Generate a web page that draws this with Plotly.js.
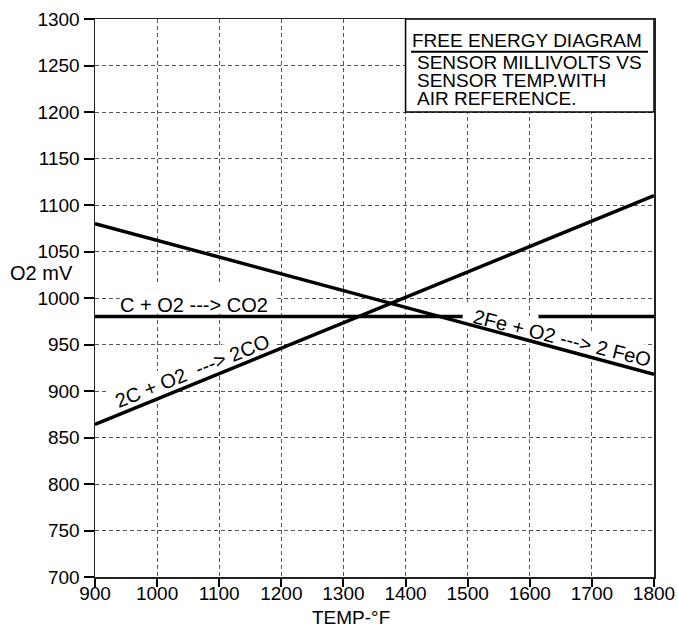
<!DOCTYPE html>
<html>
<head>
<meta charset="utf-8">
<script src="https://cdn.plot.ly/plotly-3.0.1.min.js"></script>
<style>html,body{margin:0;padding:0;background:#fff;}#chart{width:678px;height:628px;}</style>
</head>
<body>
<div id="chart"></div>
<script>
// ---- data ----
const tempF = [900, 1800];                 // x extent of sloped lines (°F)
const mvCarbonMonoxide = [864, 1110];      // 2C + O2 ---> 2CO
const mvIronOxide = [1080, 918];           // 2Fe + O2 ---> 2 FeO
const co2Temp = [900, 1492, null, 1614, 1800]; // C + O2 ---> CO2 (broken under label)
const co2Mv = [980, 980, null, 980, 980];
const xTickVals = [900, 1000, 1100, 1200, 1300, 1400, 1500, 1600, 1700, 1800];
const yTickVals = [700, 750, 800, 850, 900, 950, 1000, 1050, 1100, 1150, 1200, 1250, 1300];
const boxLines = ['SENSOR MILLIVOLTS VS', 'SENSOR TEMP.WITH', 'AIR REFERENCE.'];

// ---- layout geometry ----
const W = 678, H = 628, L = 95, R = 654, T = 19, B = 577;
const X0 = 900, X1 = 1800, Y0 = 700, Y1 = 1300;
const px2x = p => X0 + (p - L) / (R - L) * (X1 - X0);
const py2y = p => Y1 - (p - T) / (B - T) * (Y1 - Y0);

function rotRect(cx, cy, ang, hw, hh) {
  const a = ang * Math.PI / 180, c = Math.cos(a), s = Math.sin(a);
  const pts = [[-hw, -hh], [hw, -hh], [hw, hh], [-hw, hh]].map(([u, v]) =>
    [px2x(cx + u * c - v * s), py2y(cy + u * s + v * c)]);
  return 'M' + pts.map(p => p[0].toFixed(2) + ',' + p[1].toFixed(2)).join(' L') + ' Z';
}

const FONT = '"Liberation Sans", Arial, sans-serif';
const lineStyle = {color: '#000', width: 3.5};

const traces = [
  {x: tempF, y: mvCarbonMonoxide, mode: 'lines', line: lineStyle, hoverinfo: 'skip'},
  {x: tempF, y: mvIronOxide, mode: 'lines', line: lineStyle, hoverinfo: 'skip'},
  {x: co2Temp, y: co2Mv, mode: 'lines', line: lineStyle, connectgaps: false, hoverinfo: 'skip'}
];

const axisCommon = {
  showline: true, linecolor: '#222', linewidth: 1.5, mirror: true,
  ticks: 'outside', tickcolor: '#000', tickwidth: 2,
  showgrid: true, gridcolor: '#555', gridwidth: 1, griddash: '4px,3px',
  zeroline: false, tickfont: {family: FONT, size: 19, color: '#000'}
};

const annotations = [
  {text: 'C + O2 ---> CO2', x: 1059, y: 993, xref: 'x', yref: 'y', showarrow: false,
   font: {family: FONT, size: 20, color: '#000'}},
  {text: '2C + O2\u00a0\u00a0---> 2CO', x: px2x(192.4), y: py2y(370.8), xref: 'x', yref: 'y', showarrow: false,
   textangle: -22, font: {family: FONT, size: 20, color: '#000'}},
  {text: '2Fe + O2 ---> 2 FeO', x: px2x(561.7), y: py2y(338.2), xref: 'x', yref: 'y', showarrow: false,
   textangle: 14, font: {family: FONT, size: 20, color: '#000'}},
  {text: 'O2 mV', x: (41 - L) / (R - L), y: py2y(273), xref: 'paper', yref: 'y', showarrow: false,
   xanchor: 'center', yanchor: 'middle', font: {family: FONT, size: 20, color: '#000'}},
  {text: 'TEMP-°F', x: 1312, y: -(617 - B) / (B - T), xref: 'x', yref: 'paper', showarrow: false,
   xanchor: 'center', yanchor: 'middle', borderpad: 0, font: {family: FONT, size: 19, color: '#000'}},
  {text: 'FREE ENERGY DIAGRAM', x: px2x(410), y: py2y(40), xref: 'x', yref: 'y', showarrow: false,
   xanchor: 'left', yanchor: 'middle', font: {family: FONT, size: 19, color: '#000'}}
];
const boxCenters = [62.8, 80.8, 98.8];
boxLines.forEach((t, i) => annotations.push({
  text: t, x: px2x(414.5), y: py2y(boxCenters[i]), xref: 'x', yref: 'y', showarrow: false,
  xanchor: 'left', yanchor: 'middle', font: {family: FONT, size: 19, color: '#000'}
}));

const shapes = [
  // white areas behind curve labels (above grid, below traces)
  {type: 'rect', xref: 'x', yref: 'y', x0: 940, x1: 1190, y0: 983, y1: 1017,
   fillcolor: '#fff', line: {width: 0}, layer: 'between'},
  {type: 'path', xref: 'x', yref: 'y', path: rotRect(192.4, 370.8, -22, 88, 13),
   fillcolor: '#fff', line: {width: 0}, layer: 'between'},
  {type: 'path', xref: 'x', yref: 'y', path: rotRect(561.7, 338.2, 14, 100, 14),
   fillcolor: '#fff', line: {width: 0}, layer: 'between'},
  // title box
  {type: 'rect', xref: 'x', yref: 'y', x0: 1400, x1: 1800, y0: 1200, y1: 1300,
   fillcolor: '#fff', line: {color: '#000', width: 1.5}, layer: 'above'},
  {type: 'line', xref: 'x', yref: 'y', x0: px2x(411), x1: px2x(648), y0: py2y(51.7), y1: py2y(51.7),
   line: {color: '#000', width: 2}, layer: 'above'}
];

const layout = {
  width: W, height: H,
  margin: {l: L, r: W - R, t: T, b: H - B, pad: 0},
  paper_bgcolor: '#fff', plot_bgcolor: '#fff',
  showlegend: false,
  font: {family: FONT, color: '#000'},
  xaxis: Object.assign({}, axisCommon, {range: [X0, X1], tickvals: xTickVals, ticklen: 8, ticklabelstandoff: -9}),
  yaxis: Object.assign({}, axisCommon, {range: [Y0, Y1], tickvals: yTickVals, ticklen: 10}),
  annotations: annotations,
  shapes: shapes
};

Plotly.newPlot('chart', traces, layout, {staticPlot: true, displayModeBar: false});
</script>
</body>
</html>
